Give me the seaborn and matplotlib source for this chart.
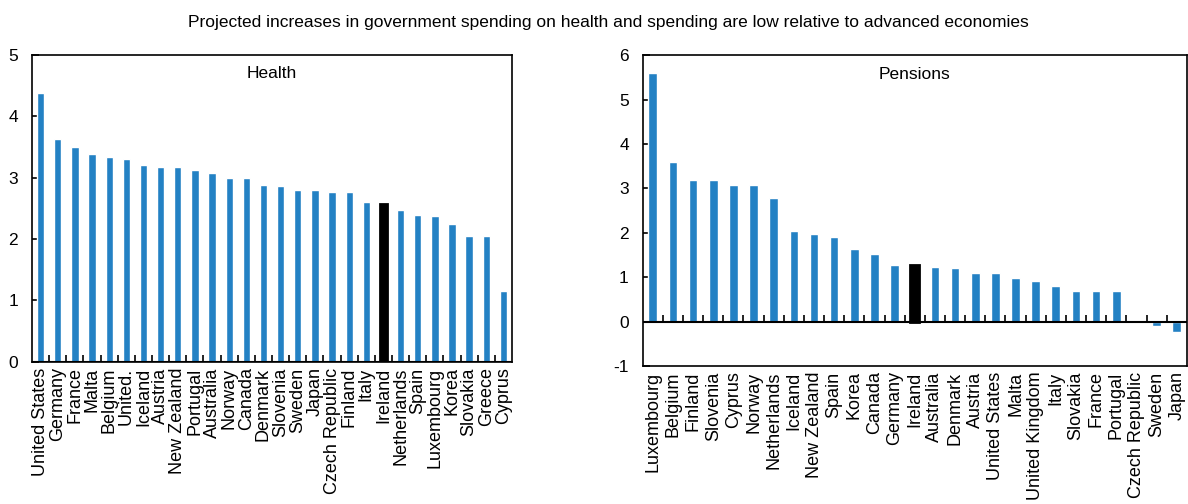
import matplotlib
matplotlib.use("Agg")

import matplotlib.pyplot as plt
import numpy as np
import pandas as pd
import seaborn as sns

# ── Data ────────────────────────────────────────────────────────────────────
title = ("Projected increases in government spending on health and spending "
         "are low relative to advanced economies")

health_countries = [
    "United States", "Germany", "France", "Malta", "Belgium", "United.",
    "Iceland", "Austria", "New Zealand", "Portugal", "Australia", "Norway",
    "Canada", "Denmark", "Slovenia", "Sweden", "Japan", "Czech Republic",
    "Finland", "Italy", "Ireland", "Netherlands", "Spain", "Luxembourg",
    "Korea", "Slovakia", "Greece", "Cyprus",
]
health_values = [
    4.38, 3.63, 3.50, 3.39, 3.33, 3.31, 3.20, 3.17, 3.17, 3.13, 3.07, 2.99,
    2.99, 2.88, 2.86, 2.80, 2.80, 2.77, 2.77, 2.61, 2.57, 2.48, 2.40, 2.38,
    2.24, 2.05, 2.05, 1.15,
]

pension_countries = [
    "Luxembourg", "Belgium", "Finland", "Slovenia", "Cyprus", "Norway",
    "Netherlands", "Iceland", "New Zealand", "Spain", "Korea", "Canada",
    "Germany", "Ireland", "Australia", "Denmark", "Austria", "United States",
    "Malta", "United Kingdom", "Italy", "Slovakia", "France", "Portugal",
    "Czech Republic", "Sweden", "Japan",
]
pension_values = [
    5.60, 3.60, 3.20, 3.20, 3.09, 3.09, 2.79, 2.05, 1.98, 1.90, 1.64, 1.53,
    1.27, 1.27, 1.24, 1.20, 1.09, 1.09, 0.98, 0.91, 0.80, 0.68, 0.68, 0.68,
    0.00, -0.09, -0.24,
]

highlight = "Ireland"
BLUE = "#2381C4"

# ── Style ────────────────────────────────────────────────────────────────────
sns.set_theme(style="ticks")
plt.rcParams["font.family"] = ["Liberation Sans", "DejaVu Sans"]
plt.rcParams["axes.unicode_minus"] = False
plt.rcParams["text.color"] = "black"
plt.rcParams["xtick.color"] = "black"
plt.rcParams["ytick.color"] = "black"


def draw_panel(ax, countries, values, label, ylim, yticks):
    df = pd.DataFrame({"country": countries, "value": values})
    palette = {c: ("black" if c == highlight else BLUE) for c in countries}
    sns.barplot(data=df, x="country", y="value", hue="country",
                palette=palette, legend=False, width=0.43, saturation=1,
                ax=ax)
    for patch, c in zip(ax.patches, countries):
        if c == highlight:
            patch.set_edgecolor("black")
            patch.set_linewidth(2.0)

    n = len(countries)
    ax.set_xlim(-0.5, n - 0.5)
    ax.set_ylim(*ylim)
    ax.set_yticks(yticks)
    ax.set_xticks(range(n))
    ax.set_xticklabels(countries, rotation=90, fontsize=13)
    ax.tick_params(axis="x", length=0, pad=4)
    ax.tick_params(axis="y", direction="in", length=5, width=1.2,
                   labelsize=12.5, pad=10)
    ax.set_xlabel("")
    ax.set_ylabel("")
    for sp in ax.spines.values():
        sp.set_visible(True)
        sp.set_color("black")
        sp.set_linewidth(1.2)

    # zero line with small upward tick marks between the bars
    ax.axhline(0, color="black", lw=1.5, zorder=3)
    between = np.arange(n - 1) + 0.5
    ax.plot(between, np.zeros_like(between), linestyle="none", marker=2,
            markersize=5, markeredgewidth=1.2, color="black", zorder=3,
            clip_on=False)

    ax.text(0.5, 0.94, label, transform=ax.transAxes, ha="center",
            va="center", fontsize=12.5)


fig = plt.figure(figsize=(11.88, 5.04), dpi=100)
ax1 = fig.add_axes([0.027, 0.282, 0.404, 0.609])
ax2 = fig.add_axes([0.541, 0.274, 0.458, 0.616])

draw_panel(ax1, health_countries, health_values, "Health", (0, 5),
           range(0, 6))
draw_panel(ax2, pension_countries, pension_values, "Pensions", (-1, 6),
           range(-1, 7))

fig.text(0.512, 0.956, title, ha="center", va="center", fontsize=12.5)

fig.savefig("out.png", dpi=100)
